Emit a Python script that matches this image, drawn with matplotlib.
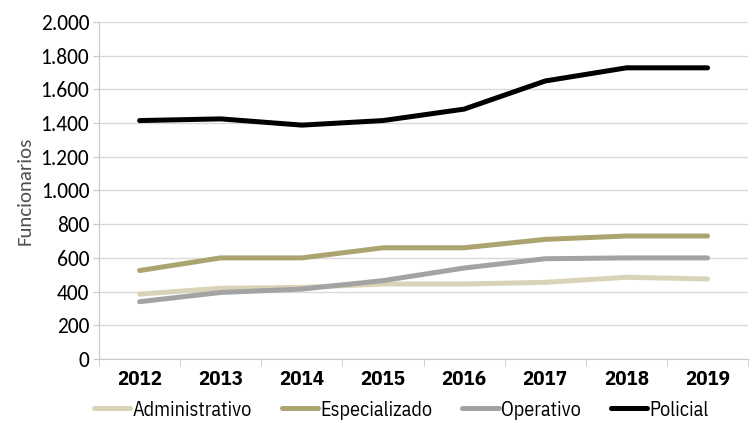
import matplotlib
matplotlib.use("Agg")
import matplotlib.pyplot as plt
from matplotlib.ticker import FuncFormatter, FixedLocator
import numpy as np

years = ["2012", "2013", "2014", "2015", "2016", "2017", "2018", "2019"]
administrativo = [385, 420, 425, 445, 445, 455, 485, 475]
especializado = [525, 600, 600, 660, 660, 710, 730, 730]
operativo = [340, 395, 415, 465, 540, 595, 600, 600]
policial = [1415, 1425, 1388, 1415, 1483, 1650, 1728, 1728]

series = [
    ("Administrativo", administrativo, "#D9D4B8"),
    ("Especializado", especializado, "#ABA46E"),
    ("Operativo", operativo, "#A3A3A3"),
    ("Policial", policial, "#000000"),
]

cond = ["IBM Plex Sans Condensed", "DejaVu Sans"]
calib = ["Carlito", "DejaVu Sans"]

fig = plt.figure(figsize=(7.53, 4.23), dpi=100)
ax = fig.add_axes([0.1315, 0.1513, 0.862, 0.7967])

x = np.arange(len(years))
for name, vals, color in series:
    ax.plot(x, vals, color=color, lw=3.6, solid_capstyle="round",
            solid_joinstyle="round", label=name)

ax.set_xlim(-0.5, len(years) - 0.5)
ax.set_ylim(0, 2000)
ax.set_yticks(np.arange(0, 2001, 200))
ax.yaxis.set_major_formatter(FuncFormatter(lambda v, p: f"{int(v):,}".replace(",", ".")))
ax.grid(axis="y", color="#D9D9D9", lw=1)
ax.set_axisbelow(True)

ax.set_xticks(x)
ax.set_xticklabels(years, fontfamily=cond, fontweight="bold", fontsize=15)
ax.xaxis.set_minor_locator(FixedLocator(np.arange(-0.5, len(years), 1)))
ax.tick_params(axis="x", which="major", length=0, pad=8)
ax.tick_params(axis="x", which="minor", length=5, color="#C8C8C8")
ax.tick_params(axis="y", length=4, color="#C8C8C8", labelsize=15.5, pad=3)
for lbl in ax.get_yticklabels():
    lbl.set_fontfamily(calib)

for s in ["top", "right"]:
    ax.spines[s].set_visible(False)
for s in ["left", "bottom"]:
    ax.spines[s].set_color("#C8C8C8")

ax.set_ylabel("Funcionarios", fontsize=15, color="#505050",
              fontfamily=calib, labelpad=5)

leg = fig.legend(loc="center", bbox_to_anchor=(401 / 753, 1 - 410 / 423), ncol=4,
                 frameon=False, handlelength=1.8, handletextpad=0.1,
                 columnspacing=1.5, borderaxespad=0, borderpad=0,
                 prop={"family": cond, "size": 14.5})

fig.savefig("out.png", dpi=100)
